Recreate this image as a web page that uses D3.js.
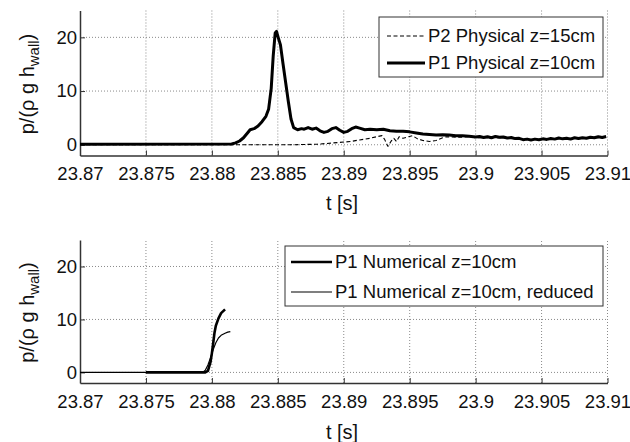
<!DOCTYPE html>
<html>
<head>
<meta charset="utf-8">
<script src="https://cdn.jsdelivr.net/npm/d3@7"></script>
<style>
  html, body { margin: 0; padding: 0; background: #fff; }
  svg { display: block; font-family: "Liberation Sans", Arial, Helvetica, sans-serif; }
</style>
</head>
<body>
<svg id="chart" width="630" height="442"></svg>
<script>
// Time axis ticks (s) and pressure ticks shared by both panels
const xTicks = [23.87, 23.875, 23.88, 23.885, 23.89, 23.895, 23.9, 23.905, 23.91];
const xTickLabels = ["23.87", "23.875", "23.88", "23.885", "23.89", "23.895", "23.9", "23.905", "23.91"];
const yTicks = [0, 10, 20];

// Measured pressure, probe P1 (z = 10 cm)
const p1PhysT = [23.87, 23.8815, 23.8818, 23.8821, 23.8824, 23.8827, 23.8829, 23.8832, 23.8835, 23.8838,
  23.8841, 23.8843, 23.8845, 23.88465, 23.8848, 23.8849, 23.88505, 23.8852, 23.8854, 23.8856,
  23.8858, 23.886, 23.8862, 23.8865, 23.8868, 23.887, 23.8873, 23.8876, 23.8879, 23.8882,
  23.8885, 23.8888, 23.8891, 23.8894, 23.8897, 23.89, 23.8903, 23.8906, 23.8909, 23.8912,
  23.8916, 23.892, 23.8925, 23.893, 23.8935, 23.894, 23.8945, 23.895, 23.8955, 23.896,
  23.8965, 23.897, 23.8975, 23.898, 23.8985, 23.899, 23.8995, 23.9, 23.9003, 23.9006,
  23.9009, 23.9012, 23.9015, 23.9018, 23.9021, 23.9024, 23.9027, 23.903, 23.9033, 23.9036,
  23.9039, 23.9042, 23.9045, 23.9048, 23.9051, 23.9054, 23.9057, 23.906, 23.9063, 23.9066,
  23.9069, 23.9072, 23.9075, 23.9078, 23.9081, 23.9084, 23.9087, 23.909, 23.9093, 23.9096,
  23.9099];
const p1PhysP = [0.1, 0.15, 0.35, 0.7, 1.3, 2.2, 2.8, 3.0, 3.5, 4.3,
  5.3, 6.6, 10.5, 16.5, 20.8, 21.1, 19.8, 18.6, 15.0, 11.5,
  8.0, 4.8, 3.2, 2.8, 3.0, 2.9, 3.2, 2.9, 3.1, 2.6,
  2.3, 2.5, 3.0, 3.2, 2.7, 2.3, 2.5, 3.0, 3.3, 3.1,
  2.8, 2.9, 2.8, 2.9, 2.6, 2.5, 2.5, 2.4, 2.2, 2.0,
  1.9, 1.8, 1.85, 1.8, 1.7, 1.7, 1.6, 1.45, 1.55, 1.35,
  1.5, 1.3, 1.55, 1.4, 1.45, 1.25, 1.35, 1.15, 1.2, 0.95,
  1.05, 0.9, 1.05, 0.95, 1.1, 1.0, 1.15, 1.05, 1.25, 1.1,
  1.2, 1.05, 1.3, 1.15, 1.3, 1.2, 1.4, 1.3, 1.5, 1.35,
  1.55];

// Measured pressure, probe P2 (z = 15 cm)
const p2PhysT = [23.87, 23.886, 23.888, 23.8895, 23.8905, 23.8912, 23.892, 23.8925, 23.8929, 23.8931,
  23.89335, 23.8936, 23.8938, 23.894, 23.8942, 23.8945, 23.8948, 23.8952, 23.8956, 23.896,
  23.8965, 23.897, 23.8975, 23.8978, 23.8985, 23.899, 23.8995, 23.9, 23.901, 23.902,
  23.903, 23.904, 23.905, 23.906, 23.907, 23.908, 23.909, 23.91];
const p2PhysP = [0.0, 0.0, 0.1, 0.4, 0.6, 0.9, 1.2, 1.5, 1.7, 1.0,
  -0.3, 0.7, 1.2, 0.6, 1.5, 1.2, 1.4, 1.7, 1.1, 0.8,
  0.6, 0.8, 1.3, 1.5, 1.4, 1.4, 1.5, 1.3, 1.3, 1.3,
  1.1, 0.9, 1.0, 1.1, 1.2, 1.2, 1.3, 1.4];

// Simulated pressure at P1
const p1NumT = [23.875, 23.8795, 23.8797, 23.8799, 23.88, 23.8801, 23.8802, 23.8803, 23.8805, 23.8807, 23.881];
const p1NumP = [0, 0, 0.3, 2.0, 3.6, 5.5, 7.5, 8.8, 10.2, 11.2, 11.9];

// Simulated pressure at P1, reduced model
const p1RedT = [23.87, 23.8793, 23.8795, 23.8797, 23.8799, 23.8801, 23.8803, 23.8805, 23.8807, 23.881, 23.8812, 23.8814];
const p1RedP = [0, 0, 0.4, 1.4, 2.8, 4.3, 5.6, 6.5, 7.0, 7.4, 7.6, 7.7];

const zip = (t, p) => t.map((v, i) => ({ t: v, p: p[i] }));

const svg = d3.select("#chart");
const FONT = 18.5;
const axisColor = "#333";

function panel(cfg) {
  const x = d3.scaleLinear().domain([23.87, 23.91]).range([80, 607.5]);
  const y = d3.scaleLinear().domain([-2, 25]).range([cfg.bottom, cfg.top]);
  const g = svg.append("g");

  // dotted grid
  g.append("g").selectAll("line.gx").data(xTicks.slice(1)).join("line")
    .attr("x1", d => x(d)).attr("x2", d => x(d))
    .attr("y1", cfg.bottom).attr("y2", cfg.top)
    .attr("stroke", "#8a8a8a").attr("stroke-width", 1).attr("stroke-dasharray", "1,2");
  g.append("g").selectAll("line.gy").data(yTicks).join("line")
    .attr("x1", x.range()[0]).attr("x2", x.range()[1])
    .attr("y1", d => y(d)).attr("y2", d => y(d))
    .attr("stroke", "#8a8a8a").attr("stroke-width", 1).attr("stroke-dasharray", "1,2");

  // bottom axis, ticks pointing inward
  const xAxis = d3.axisBottom(x).tickValues(xTicks)
    .tickFormat((d, i) => xTickLabels[i]).tickSizeInner(-5).tickSizeOuter(0).tickPadding(11.5);
  const ax = g.append("g").attr("transform", `translate(0,${cfg.bottom})`).call(xAxis);
  ax.select(".domain").attr("stroke", axisColor).attr("stroke-width", 1.5);
  ax.selectAll(".tick line").attr("stroke", axisColor).attr("stroke-width", 1);
  ax.selectAll(".tick text").attr("font-size", FONT).attr("fill", "#111")
    .attr("font-family", "Liberation Sans, Arial, sans-serif");

  // left axis
  const yAxis = d3.axisLeft(y).tickValues(yTicks).tickSizeInner(-5).tickSizeOuter(0).tickPadding(3);
  const ay = g.append("g").attr("transform", "translate(80,0)").call(yAxis);
  ay.select(".domain").attr("stroke", axisColor).attr("stroke-width", 1.5);
  ay.selectAll(".tick line").attr("stroke", axisColor).attr("stroke-width", 1);
  ay.selectAll(".tick text").attr("font-size", FONT).attr("fill", "#111")
    .attr("font-family", "Liberation Sans, Arial, sans-serif");

  // x label
  g.append("text").attr("x", 342).attr("y", cfg.xlabelY).attr("text-anchor", "middle")
    .attr("font-size", 20).attr("fill", "#111").text("t [s]");

  // y label with subscript
  const yl = g.append("text")
    .attr("transform", `translate(34,${(cfg.top + cfg.bottom) / 2 + 1}) rotate(-90)`)
    .attr("text-anchor", "middle").attr("font-size", 20).attr("fill", "#111");
  yl.append("tspan").text("p/(ρ g h");
  yl.append("tspan").attr("font-size", 15).attr("dy", 5).text("wall");
  yl.append("tspan").attr("dy", -5).text(")");

  // series
  const line = d3.line().x(d => x(d.t)).y(d => y(d.p));
  cfg.series.forEach(s => {
    g.append("path").datum(zip(s.t, s.p)).attr("d", line)
      .attr("fill", "none").attr("stroke", "#000")
      .attr("stroke-width", s.width).attr("stroke-linejoin", "round")
      .attr("stroke-dasharray", s.dash || null);
  });

  // legend
  const L = cfg.legend;
  const lg = g.append("g");
  lg.append("rect").attr("x", L.x).attr("y", L.y).attr("width", L.w).attr("height", L.h)
    .attr("fill", "#fff").attr("stroke", "#333").attr("stroke-width", 1);
  L.items.forEach((it, i) => {
    const cy = L.y + L.rowY[i];
    lg.append("line").attr("x1", L.lx1).attr("x2", L.lx2).attr("y1", cy).attr("y2", cy)
      .attr("stroke", "#000").attr("stroke-width", it.width).attr("stroke-dasharray", it.dash || null);
    lg.append("text").attr("x", L.tx).attr("y", cy).attr("dy", "0.35em")
      .attr("font-size", FONT).attr("fill", "#111").text(it.label);
  });
}

panel({
  top: 10.5, bottom: 155.5, xlabelY: 210,
  series: [
    { t: p2PhysT, p: p2PhysP, width: 1.1, dash: "4,2.5" },
    { t: p1PhysT, p: p1PhysP, width: 3 }
  ],
  legend: {
    x: 379, y: 17, w: 224, h: 60, lx1: 387, lx2: 425, tx: 428, rowY: [19, 46],
    items: [
      { label: "P2 Physical z=15cm", width: 1.1, dash: "4,2.5" },
      { label: "P1 Physical z=10cm", width: 3 }
    ]
  }
});

panel({
  top: 240, bottom: 383, xlabelY: 439,
  series: [
    { t: p1RedT, p: p1RedP, width: 1.2 },
    { t: p1NumT, p: p1NumP, width: 2.6 }
  ],
  legend: {
    x: 285, y: 246, w: 318, h: 60, lx1: 291, lx2: 332, tx: 335, rowY: [16, 46],
    items: [
      { label: "P1 Numerical z=10cm", width: 2.6 },
      { label: "P1 Numerical z=10cm, reduced", width: 1.2 }
    ]
  }
});
</script>
</body>
</html>
